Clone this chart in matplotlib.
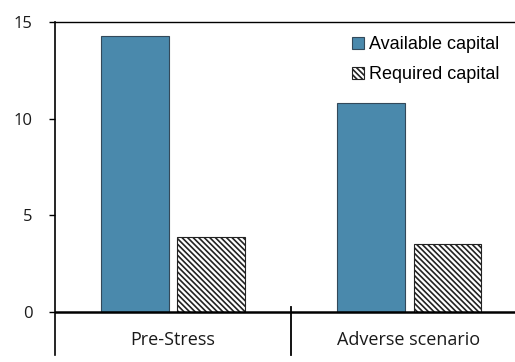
import matplotlib
matplotlib.use("Agg")
import matplotlib.pyplot as plt
import numpy as np

categories = ["Pre-Stress", "Adverse scenario"]
available_capital = [14.3, 10.8]
required_capital = [3.9, 3.55]
series_names = ["Available capital", "Required capital"]
y_ticks = [0, 5, 10, 15]

plt.rcParams["hatch.linewidth"] = 1.2
label_font = ["Open Sans", "DejaVu Sans"]

fig = plt.figure(figsize=(5.15, 3.62), dpi=100)
ax = fig.add_axes([55 / 515, 7 / 362, 460 / 515, 333 / 362])

x = np.arange(len(categories))
width = 0.288
offset = 0.163

ax.bar(x - offset, available_capital, width, color="#4A89AC",
       edgecolor="#33495A", linewidth=0.8, label=series_names[0], zorder=2)
ax.bar(x + offset, required_capital, width, color="white",
       edgecolor="#222222", hatch="\\\\\\\\\\\\", linewidth=0.8,
       label=series_names[1], zorder=2)

ax.set_xlim(-0.5, 1.449)
ax.set_ylim(-2.21, 15)

# zero baseline acts as the category axis
ax.axhline(0, color="black", linewidth=1.8, zorder=3)
# separator between the two categories
ax.plot([0.5, 0.5], [0.28, -2.21], color="black", linewidth=1.3,
        clip_on=False, zorder=3)

for name, xi in zip(categories, x):
    ax.text(xi, -1.45, name, ha="center", va="center",
            fontsize=13, family=label_font, color="#1a1a1a")

ax.set_yticks(y_ticks)
ax.set_yticklabels([str(t) for t in y_ticks], family=label_font,
                   fontsize=12, color="#1a1a1a")
ax.tick_params(axis="y", direction="out", length=4, width=1, pad=12)
ax.set_xticks([])

ax.spines["right"].set_visible(False)
ax.spines["bottom"].set_visible(False)
ax.spines["top"].set_linewidth(1.0)
ax.spines["left"].set_linewidth(1.2)

leg = ax.legend(loc="upper right", bbox_to_anchor=(0.99, 0.99), frameon=False,
                prop={"family": ["Liberation Sans", "DejaVu Sans"], "size": 13},
                handlelength=0.65, handleheight=0.65, handletextpad=0.3,
                labelspacing=0.72, borderaxespad=0.2)

fig.savefig("out.png", dpi=100)
